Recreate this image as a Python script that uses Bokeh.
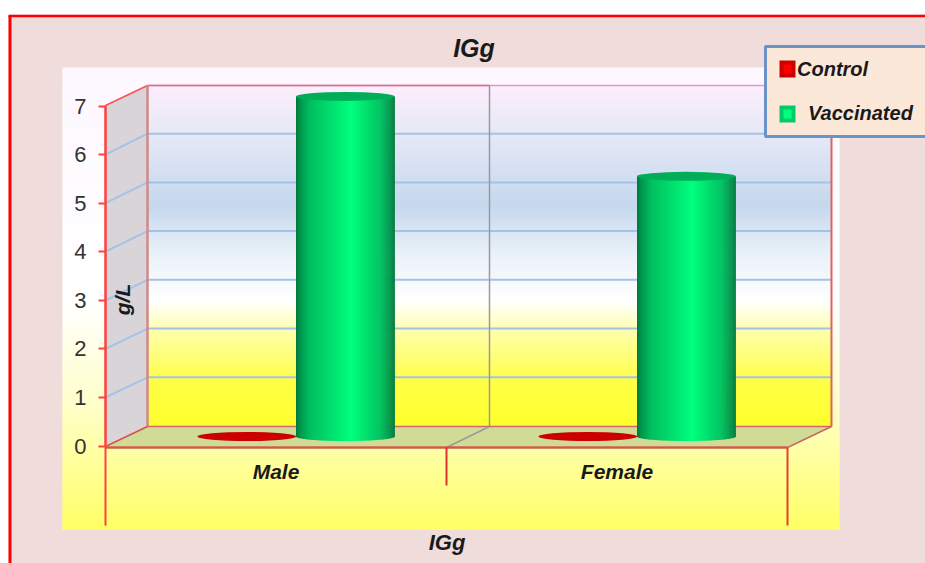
import numpy as np
from bokeh.plotting import figure
from bokeh.embed import file_html
from bokeh.resources import INLINE
from bokeh.core.properties import value
from bokeh.models import LinearAxis, FixedTicker, Range1d

# ---- data ----
categories = ["Male", "Female"]
control_values = [0.0, 0.0]
vaccinated_values = [6.98, 5.34]
y_ticks = [0, 1, 2, 3, 4, 5, 6, 7]
series_names = ["Control", "Vaccinated"]
title_text = "IGg"
x_title = "IGg"
y_title = "g/L"

W, H = 925, 563
ORG_X, ORG_Y = 0, 0
X0, CAT_W = 105, 341.0       # front plane: x=0 pixel, width of one category
Y0, UNIT = 445.5, 340 / 7.0  # front plane: value 0 pixel, pixels per unit
DX, DY = 42, 19.5            # depth offset of the back wall (pixels)


def px(x):
    return (np.asarray(x, dtype=float) - X0) / CAT_W


def py(y):
    return (Y0 - np.asarray(y, dtype=float)) / UNIT


p = figure(width=W, height=H, output_backend="svg", toolbar_location=None,
           x_range=Range1d(float(px(ORG_X)), float(px(ORG_X + W))),
           y_range=Range1d(float(py(ORG_Y + H)), float(py(ORG_Y))),
           x_axis_location=None, y_axis_location=None, min_border=0,
           outline_line_color=None, background_fill_color="white",
           border_fill_color="white")
p.grid.visible = False


def hex_col(c):
    return "#%02x%02x%02x" % tuple(int(round(v)) for v in c)


def ramp(t, stops):
    ts = [s[0] for s in stops]
    return [hex_col([np.interp(v, ts, [s[1][k] for s in stops]) for k in range(3)]) for v in t]


def rect_px(x1, y1, x2, y2, color, line=None, lw=1):
    p.quad(left=[float(px(x1))], right=[float(px(x2))], bottom=[float(py(y2))], top=[float(py(y1))],
           fill_color=color, line_color=line, line_width=lw)


def vgrad(x1, x2, y1, y2, stops):
    ys = np.arange(y1, y2)
    cols = ramp(ys, stops)
    p.quad(left=px(np.full(len(ys), x1)), right=px(np.full(len(ys), x2)),
           top=py(ys), bottom=py(ys + 1.4), fill_color=cols, line_color=None)


def poly_px(xs, ys, color, alpha=1.0):
    p.patch(px(xs), py(ys), fill_color=color, line_color=None, fill_alpha=alpha)


def line_px(xs, ys, color, lw=1.5, alpha=1.0):
    p.line(px(xs), py(ys), line_color=color, line_width=lw, line_alpha=alpha)


# page panel
rect_px(8, 14, 940, 580, "#f0dcdb")
line_px([9.5, 9.5], [15.5, 580], "#ff0000", 3)
line_px([8, 940], [15.5, 15.5], "#ff0000", 2.5)

# chart area gradient
vgrad(62, 839, 67, 529, [(67, (253, 248, 255)), (300, (255, 255, 255)), (400, (255, 255, 205)),
                         (529, (255, 255, 102))])

# back wall gradient
vgrad(147, 831, 85, 426, [(85, (253, 238, 252)), (135, (229, 232, 246)), (205, (197, 216, 237)),
                          (250, (232, 240, 248)), (300, (255, 255, 255)), (335, (255, 255, 160)),
                          (380, (255, 255, 70)), (426, (255, 255, 45))])

# side wall and floor
poly_px([105, 147, 147, 105], [105, 85, 426, 445], "#d8d4d8")
poly_px([105, 147, 831, 787], [446, 426, 426, 446], "#d0dc96")

# grid lines: back wall and side wall, from the value axis
for t in y_ticks[1:]:
    yb = 445 - DY - t * 48.72
    yf = Y0 - t * UNIT
    if t < 7:
        line_px([147, 831], [yb, yb], "#a4c2e8", 2)
        line_px([105, 147], [yf, yb], "#a4c2e8", 2)

# frame lines
line_px([147, 831], [85, 85], "#d8a0c8", 1.5)
line_px([147, 489], [85, 85], "#e07080", 1.5)
line_px([105, 147], [105, 85], "#ff5050", 1.5)
line_px([147, 147], [85, 426], "#d08888", 2.5)
line_px([489, 489], [85, 426], "#9a9a9a", 1.5)
line_px([831, 831], [85, 426], "#e06060", 2)
line_px([147, 831], [426, 426], "#d06868", 1.5)
line_px([489, 446], [426, 447], "#9a9a9a", 1.5)
line_px([105, 147], [446, 426], "#d8504c", 1.5)
line_px([787, 831], [447, 426], "#c86460", 1.5)
line_px([105, 787], [447, 447], "#d05a48", 2.5)
line_px([105, 105], [105, 525], "#ff4040", 2)
line_px([446, 446], [447, 485], "#e03030", 2)
line_px([787, 787], [447, 525], "#e04030", 2)

# ---- cylinders ----
BAR_FRAC = 98.5 / CAT_W
DEPTH_X = 20 / CAT_W
DEPTH_Y = 9.5 / UNIT
EL = 4.5 / UNIT

GREEN = [(0.0, (0, 118, 60)), (0.04, (0, 150, 76)), (0.14, (0, 190, 95)), (0.56, (0, 255, 125)),
         (0.86, (0, 195, 98)), (0.97, (0, 140, 72)), (1.0, (0, 118, 60))]


def cylinder(center, val, stops, top_color):
    n = 99
    edges = center - BAR_FRAC / 2 + BAR_FRAC * np.arange(n + 1) / n
    u = (edges[:-1] + edges[1:] - 2 * center) / BAR_FRAC
    prof = np.sqrt(np.clip(1 - u ** 2, 0, 1)) * EL
    bottoms = DEPTH_Y * np.ones(n) - prof
    tops = DEPTH_Y + val * 48.72 / UNIT * np.ones(n)
    p.quad(left=edges[:-1], right=edges[1:] + BAR_FRAC / n * 0.4, bottom=bottoms, top=tops,
           fill_color=ramp((u + 1) / 2, stops), line_color=None)
    p.ellipse(x=[center], y=[tops[0]], width=[BAR_FRAC], height=[2 * EL],
              fill_color=top_color, line_color=None)


for i, c in enumerate(categories):
    center = i + 0.5 + DEPTH_X
    # control bar sits left of centre, vaccinated bar right of centre
    cv = center - BAR_FRAC / 2
    p.ellipse(x=[cv], y=[DEPTH_Y + control_values[i]], width=[BAR_FRAC], height=[2 * EL],
              fill_color="#cc0000", line_color=None)
    cylinder(center + BAR_FRAC / 2, vaccinated_values[i], GREEN, "#00ae58")

# ---- axes ----
yaxis = LinearAxis(fixed_location=0, ticker=FixedTicker(ticks=y_ticks), bounds=(0, 7))
yaxis.axis_line_color = "#ff4040"
yaxis.axis_line_width = 2
yaxis.major_tick_line_color = "#ff4040"
yaxis.major_tick_line_width = 2
yaxis.major_tick_in = 0
yaxis.major_tick_out = 7
yaxis.minor_tick_line_color = None
yaxis.major_label_text_font = "Liberation Sans"
yaxis.major_label_text_font_size = "22px"
yaxis.major_label_text_color = "#333333"
yaxis.major_label_standoff = 12
p.add_layout(yaxis, "left")

xaxis = LinearAxis(fixed_location=0, ticker=FixedTicker(ticks=[i + 0.5 for i in range(len(categories))]),
                   major_label_overrides={i + 0.5: c for i, c in enumerate(categories)})
xaxis.axis_line_color = None
xaxis.major_tick_line_color = None
xaxis.minor_tick_line_color = None
xaxis.major_tick_in = 0
xaxis.major_tick_out = 0
xaxis.major_label_text_font = "Liberation Sans"
xaxis.major_label_text_font_style = "bold italic"
xaxis.major_label_text_font_size = "21px"
xaxis.major_label_text_color = "#1a1a1a"
xaxis.major_label_standoff = 14
p.add_layout(xaxis, "below")


def text_px(x, y, s, size, angle=0.0, align="center"):
    p.text(x=[float(px(x))], y=[float(py(y))], text=[s], text_font=value("Liberation Sans"),
           text_font_style="bold italic", text_font_size=size, text_color="#1a1a1a",
           text_align=align, text_baseline="middle", angle=angle)


text_px(473.5, 47, title_text, "25px")
text_px(446.5, 542, x_title, "22px")
text_px(122, 299, y_title, "21px", angle=np.pi / 2)

# ---- legend ----
rect_px(765, 46, 940, 136, "#fce8d9", "#6a94c8", 3)
rect_px(779, 60, 795, 77, "#cc0000")
rect_px(783, 64, 791, 73, "#ff0000")
rect_px(779, 105, 795, 122, "#00cc66")
rect_px(783, 109, 791, 118, "#00ff7f")
text_px(796.5, 68, series_names[0], "20px", align="left")
text_px(807.5, 112, series_names[1], "20px", align="left")

open("out.html", "w").write(file_html(p, INLINE))
